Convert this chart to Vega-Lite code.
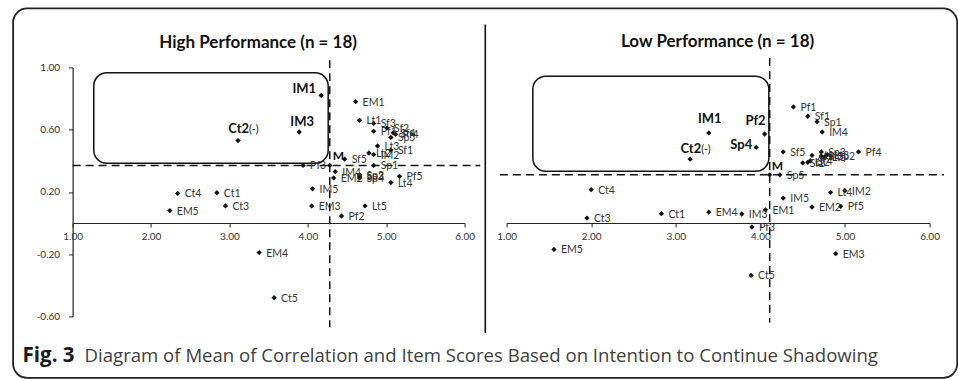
{
  "$schema": "https://vega.github.io/schema/vega-lite/v6.json",
  "padding": {"left": 11.6, "top": 7.4, "right": 0, "bottom": 0},
  "config": {
    "view": {"stroke": null},
    "locale": {"number": {"decimal": ".", "thousands": ",", "grouping": [3], "currency": ["$", ""], "minus": "-"}},
    "axis": {"grid": false, "title": null, "labelFont": "Lato", "labelFontSize": 10, "labelColor": "#333", "domainColor": "#222", "tickColor": "#222", "domainWidth": 1.2, "tickSize": 4, "labelFlush": false, "labelOverlap": false}
  },
  "datasets": {
    "high": [
      {"item": "IM1", "mean": 4.17, "r": 0.82},
      {"item": "IM2", "mean": 4.84, "r": 0.44},
      {"item": "IM3", "mean": 3.89, "r": 0.585},
      {"item": "IM4", "mean": 4.35, "r": 0.33},
      {"item": "IM5", "mean": 4.06, "r": 0.22},
      {"item": "EM1", "mean": 4.61, "r": 0.78},
      {"item": "EM2", "mean": 4.33, "r": 0.29},
      {"item": "EM3", "mean": 4.05, "r": 0.11},
      {"item": "EM4", "mean": 3.38, "r": -0.19},
      {"item": "EM5", "mean": 2.24, "r": 0.08},
      {"item": "Ct1", "mean": 2.84, "r": 0.195},
      {"item": "Ct2", "mean": 3.11, "r": 0.53},
      {"item": "Ct3", "mean": 2.95, "r": 0.11},
      {"item": "Ct4", "mean": 2.34, "r": 0.19},
      {"item": "Ct5", "mean": 3.57, "r": -0.48},
      {"item": "Sf1", "mean": 5.06, "r": 0.47},
      {"item": "Sf2", "mean": 5.01, "r": 0.61},
      {"item": "Sf3", "mean": 4.84, "r": 0.64},
      {"item": "Sf4", "mean": 5.09, "r": 0.58},
      {"item": "Sf5", "mean": 4.47, "r": 0.41},
      {"item": "Sp1", "mean": 4.84, "r": 0.37},
      {"item": "Sp2", "mean": 4.66, "r": 0.31},
      {"item": "Sp3", "mean": 4.66, "r": 0.3},
      {"item": "Sp4", "mean": 4.66, "r": 0.29},
      {"item": "Sp5", "mean": 5.06, "r": 0.55},
      {"item": "Lt1", "mean": 4.66, "r": 0.66},
      {"item": "Lt2", "mean": 4.78, "r": 0.45},
      {"item": "Lt3", "mean": 4.89, "r": 0.495},
      {"item": "Lt4", "mean": 5.06, "r": 0.26},
      {"item": "Lt5", "mean": 4.73, "r": 0.11},
      {"item": "Pf1", "mean": 4.84, "r": 0.59},
      {"item": "Pf2", "mean": 4.43, "r": 0.045},
      {"item": "Pf3", "mean": 3.94, "r": 0.37},
      {"item": "Pf4", "mean": 5.12, "r": 0.57},
      {"item": "Pf5", "mean": 5.17, "r": 0.3},
      {"item": "M", "mean": 4.28, "r": 0.37}
    ],
    "low": [
      {"item": "IM1", "mean": 3.39, "r": 0.579},
      {"item": "IM2", "mean": 5.0, "r": 0.208},
      {"item": "IM3", "mean": 3.78, "r": 0.058},
      {"item": "IM4", "mean": 4.73, "r": 0.585},
      {"item": "IM5", "mean": 4.27, "r": 0.16},
      {"item": "EM1", "mean": 4.06, "r": 0.085},
      {"item": "EM2", "mean": 4.61, "r": 0.103},
      {"item": "EM3", "mean": 4.89, "r": -0.197},
      {"item": "EM4", "mean": 3.39, "r": 0.07},
      {"item": "EM5", "mean": 1.56, "r": -0.17},
      {"item": "Ct1", "mean": 2.83, "r": 0.06},
      {"item": "Ct2", "mean": 3.17, "r": 0.41},
      {"item": "Ct3", "mean": 1.95, "r": 0.032},
      {"item": "Ct4", "mean": 2.0, "r": 0.214},
      {"item": "Ct5", "mean": 3.89, "r": -0.337},
      {"item": "Sf1", "mean": 4.56, "r": 0.686},
      {"item": "Sf2", "mean": 4.5, "r": 0.386},
      {"item": "Sf3", "mean": 4.72, "r": 0.43},
      {"item": "Sf4", "mean": 4.59, "r": 0.4},
      {"item": "Sf5", "mean": 4.27, "r": 0.457},
      {"item": "Sp1", "mean": 4.67, "r": 0.65},
      {"item": "Sp2", "mean": 4.83, "r": 0.43},
      {"item": "Sp3", "mean": 4.72, "r": 0.457},
      {"item": "Sp4", "mean": 3.95, "r": 0.486},
      {"item": "Sp5", "mean": 4.23, "r": 0.31},
      {"item": "Lt1", "mean": 4.61, "r": 0.435},
      {"item": "Lt2", "mean": 4.56, "r": 0.39},
      {"item": "Lt3", "mean": 4.79, "r": 0.44},
      {"item": "Lt4", "mean": 4.83, "r": 0.197},
      {"item": "Lt5", "mean": 4.76, "r": 0.425},
      {"item": "Pf1", "mean": 4.39, "r": 0.746},
      {"item": "Pf2", "mean": 4.05, "r": 0.572},
      {"item": "Pf3", "mean": 3.9, "r": -0.026},
      {"item": "Pf4", "mean": 5.16, "r": 0.457},
      {"item": "Pf5", "mean": 4.95, "r": 0.107},
      {"item": "M", "mean": 4.11, "r": 0.31}
    ]
  },
  "bounds": "flush",
  "spacing": 42,
  "hconcat": [
    {
      "width": 392,
      "height": 249,
      "data": {"name": "high"},
      "layer": [
        {
          "data": {"values": [{}]},
          "mark": {"type": "rect", "filled": false, "color": "#222", "stroke": "#222", "strokeWidth": 1.8, "cornerRadius": 14},
          "encoding": {
            "x": {"datum": 0.241, "type": "quantitative", "scale": {"domain": [1, 6], "nice": false, "zero": false}},
            "x2": {"datum": 12.284},
            "y": {"datum": 1.379, "type": "quantitative", "scale": {"domain": [-0.6, 1.0], "nice": false, "zero": false}},
            "y2": {"datum": -0.995}
          }
        },
        {
          "data": {"values": [{}]},
          "mark": {"type": "text", "align": "center", "baseline": "middle", "font": "Lato", "fontSize": 17, "fontWeight": "bold", "color": "#111"},
          "encoding": {"x": {"datum": 3.366, "type": "quantitative"}, "y": {"datum": 1.156, "type": "quantitative"}, "text": {"value": "High Performance (n = 18)"}}
        },
        {
          "data": {"values": [{}]},
          "mark": {"type": "rect", "filled": false, "color": "#111", "stroke": "#111", "strokeWidth": 1.5, "cornerRadius": 13},
          "encoding": {
            "x": {"datum": 1.27, "type": "quantitative"},
            "x2": {"datum": 4.26},
            "y": {"datum": 0.965, "type": "quantitative"},
            "y2": {"datum": 0.384}
          }
        },
        {
          "data": {"values": [{}]},
          "mark": {"type": "rule", "color": "#111", "strokeWidth": 1.5, "strokeDash": [8, 5]},
          "encoding": {
            "x": {"datum": 1.0, "type": "quantitative"},
            "x2": {"datum": 6.2},
            "y": {"datum": 0.37, "type": "quantitative"}
          }
        },
        {
          "data": {"values": [{}]},
          "mark": {"type": "rule", "color": "#111", "strokeWidth": 1.5, "strokeDash": [8, 5]},
          "encoding": {
            "x": {"datum": 4.28, "type": "quantitative"},
            "y": {"datum": 1.046, "type": "quantitative"},
            "y2": {"datum": -0.67}
          }
        },
        {
          "mark": {"type": "point", "shape": "diamond", "filled": true, "size": 28, "color": "#111", "opacity": 1},
          "encoding": {
            "x": {"field": "mean", "type": "quantitative", "scale": {"domain": [1, 6], "nice": false, "zero": false},
                  "axis": {"values": [1, 2, 3, 4, 5, 6], "format": ".2f", "offset": -93.4, "labelPadding": 5}},
            "y": {"field": "r", "type": "quantitative", "scale": {"domain": [-0.6, 1.0], "nice": false, "zero": false},
                  "axis": {"values": [-0.6, -0.4, -0.2, 0, 0.2, 0.4, 0.6, 0.8, 1.0], "format": ".2f", "labelPadding": 9}}
          }
        },
        {
          "transform": [{"filter": {"not": {"field": "item", "oneOf": ["IM1", "IM3", "Ct2", "M"]}}}],
          "mark": {"type": "text", "align": "left", "baseline": "middle", "dx": 7, "dy": 1, "font": "Lato", "fontSize": 10.5, "color": "#333"},
          "encoding": {"x": {"field": "mean", "type": "quantitative"}, "y": {"field": "r", "type": "quantitative"}, "text": {"field": "item"}}
        },
        {
          "transform": [{"filter": {"field": "item", "oneOf": ["IM1"]}}],
          "mark": {"type": "text", "align": "right", "baseline": "middle", "dx": -5, "dy": -6, "font": "Lato", "fontSize": 13, "fontWeight": "bold", "color": "#111"},
          "encoding": {"x": {"field": "mean", "type": "quantitative"}, "y": {"field": "r", "type": "quantitative"}, "text": {"field": "item"}}
        },
        {
          "transform": [{"filter": {"field": "item", "oneOf": ["IM3"]}}],
          "mark": {"type": "text", "align": "center", "baseline": "middle", "dx": 3, "dy": -10, "font": "Lato", "fontSize": 13, "fontWeight": "bold", "color": "#111"},
          "encoding": {"x": {"field": "mean", "type": "quantitative"}, "y": {"field": "r", "type": "quantitative"}, "text": {"field": "item"}}
        },
        {
          "transform": [{"filter": {"field": "item", "oneOf": ["Ct2"]}}],
          "mark": {"type": "text", "align": "right", "baseline": "middle", "dx": 11, "dy": -12, "font": "Lato", "fontSize": 13, "fontWeight": "bold", "color": "#111"},
          "encoding": {"x": {"field": "mean", "type": "quantitative"}, "y": {"field": "r", "type": "quantitative"}, "text": {"field": "item"}}
        },
        {
          "transform": [{"filter": {"field": "item", "oneOf": ["Ct2"]}}],
          "mark": {"type": "text", "align": "left", "baseline": "middle", "dx": 11, "dy": -11, "font": "Lato", "fontSize": 10.5, "color": "#111"},
          "encoding": {"x": {"field": "mean", "type": "quantitative"}, "y": {"field": "r", "type": "quantitative"}, "text": {"value": "(-)"}}
        },
        {
          "transform": [{"filter": {"field": "item", "oneOf": ["M"]}}],
          "mark": {"type": "text", "align": "left", "baseline": "middle", "dx": 3, "dy": -9, "font": "Lato", "fontSize": 12, "fontWeight": "bold", "color": "#111"},
          "encoding": {"x": {"field": "mean", "type": "quantitative"}, "y": {"field": "r", "type": "quantitative"}, "text": {"field": "item"}}
        },
        {
          "data": {"values": [{}]},
          "mark": {"type": "text", "align": "left", "baseline": "alphabetic", "font": "Open Sans", "fontSize": 20.5, "fontWeight": "bold", "color": "#1a1a1a"},
          "encoding": {"x": {"datum": 0.362, "type": "quantitative"}, "y": {"datum": -0.896, "type": "quantitative"}, "text": {"value": "Fig. 3"}}
        },
        {
          "data": {"values": [{}]},
          "mark": {"type": "text", "align": "left", "baseline": "alphabetic", "font": "Open Sans", "fontSize": 18.6, "color": "#404040"},
          "encoding": {"x": {"datum": 1.153, "type": "quantitative"}, "y": {"datum": -0.896, "type": "quantitative"}, "text": {"value": "Diagram of Mean of Correlation and Item Scores Based on Intention to Continue Shadowing"}}
        }
      ]
    },
    {
      "width": 423,
      "height": 249,
      "data": {"name": "low"},
      "layer": [
        {
          "data": {"values": [{}]},
          "mark": {"type": "rule", "color": "#111", "strokeWidth": 1.6},
          "encoding": {
            "x": {"datum": 0.748, "type": "quantitative", "scale": {"domain": [1, 6], "nice": false, "zero": false}},
            "y": {"datum": 1.275, "type": "quantitative", "scale": {"domain": [-0.6, 1.0], "nice": false, "zero": false}},
            "y2": {"datum": -0.705}
          }
        },
        {
          "data": {"values": [{}]},
          "mark": {"type": "text", "align": "center", "baseline": "middle", "font": "Lato", "fontSize": 17, "fontWeight": "bold", "color": "#111"},
          "encoding": {"x": {"datum": 3.494, "type": "quantitative"}, "y": {"datum": 1.16, "type": "quantitative"}, "text": {"value": "Low Performance (n = 18)"}}
        },
        {
          "data": {"values": [{}]},
          "mark": {"type": "rect", "filled": false, "color": "#111", "stroke": "#111", "strokeWidth": 1.5, "cornerRadius": 13},
          "encoding": {
            "x": {"datum": 1.31, "type": "quantitative"},
            "x2": {"datum": 4.1},
            "y": {"datum": 0.943, "type": "quantitative"},
            "y2": {"datum": 0.332}
          }
        },
        {
          "data": {"values": [{}]},
          "mark": {"type": "rule", "color": "#111", "strokeWidth": 1.5, "strokeDash": [8, 5]},
          "encoding": {
            "x": {"datum": 0.92, "type": "quantitative"},
            "x2": {"datum": 6.17},
            "y": {"datum": 0.31, "type": "quantitative"}
          }
        },
        {
          "data": {"values": [{}]},
          "mark": {"type": "rule", "color": "#111", "strokeWidth": 1.5, "strokeDash": [8, 5]},
          "encoding": {
            "x": {"datum": 4.11, "type": "quantitative"},
            "y": {"datum": 1.06, "type": "quantitative"},
            "y2": {"datum": -0.64}
          }
        },
        {
          "mark": {"type": "point", "shape": "diamond", "filled": true, "size": 28, "color": "#111", "opacity": 1},
          "encoding": {
            "x": {"field": "mean", "type": "quantitative", "scale": {"domain": [1, 6], "nice": false, "zero": false},
                  "axis": {"values": [1, 2, 3, 4, 5, 6], "format": ".2f", "offset": -93.4, "labelPadding": 5}},
            "y": {"field": "r", "type": "quantitative", "scale": {"domain": [-0.6, 1.0], "nice": false, "zero": false}, "axis": null}
          }
        },
        {
          "transform": [{"filter": {"not": {"field": "item", "oneOf": ["IM1", "Pf2", "Sp4", "Ct2", "M"]}}}],
          "mark": {"type": "text", "align": "left", "baseline": "middle", "dx": 7, "dy": 1, "font": "Lato", "fontSize": 10.5, "color": "#333"},
          "encoding": {"x": {"field": "mean", "type": "quantitative"}, "y": {"field": "r", "type": "quantitative"}, "text": {"field": "item"}}
        },
        {
          "transform": [{"filter": {"field": "item", "oneOf": ["IM1"]}}],
          "mark": {"type": "text", "align": "center", "baseline": "middle", "dx": 1, "dy": -14, "font": "Lato", "fontSize": 13, "fontWeight": "bold", "color": "#111"},
          "encoding": {"x": {"field": "mean", "type": "quantitative"}, "y": {"field": "r", "type": "quantitative"}, "text": {"field": "item"}}
        },
        {
          "transform": [{"filter": {"field": "item", "oneOf": ["Pf2"]}}],
          "mark": {"type": "text", "align": "right", "baseline": "middle", "dx": 1, "dy": -13, "font": "Lato", "fontSize": 13, "fontWeight": "bold", "color": "#111"},
          "encoding": {"x": {"field": "mean", "type": "quantitative"}, "y": {"field": "r", "type": "quantitative"}, "text": {"field": "item"}}
        },
        {
          "transform": [{"filter": {"field": "item", "oneOf": ["Sp4"]}}],
          "mark": {"type": "text", "align": "right", "baseline": "middle", "dx": -4, "dy": -2, "font": "Lato", "fontSize": 13, "fontWeight": "bold", "color": "#111"},
          "encoding": {"x": {"field": "mean", "type": "quantitative"}, "y": {"field": "r", "type": "quantitative"}, "text": {"field": "item"}}
        },
        {
          "transform": [{"filter": {"field": "item", "oneOf": ["Ct2"]}}],
          "mark": {"type": "text", "align": "right", "baseline": "middle", "dx": 11, "dy": -10, "font": "Lato", "fontSize": 13, "fontWeight": "bold", "color": "#111"},
          "encoding": {"x": {"field": "mean", "type": "quantitative"}, "y": {"field": "r", "type": "quantitative"}, "text": {"field": "item"}}
        },
        {
          "transform": [{"filter": {"field": "item", "oneOf": ["Ct2"]}}],
          "mark": {"type": "text", "align": "left", "baseline": "middle", "dx": 11, "dy": -9, "font": "Lato", "fontSize": 10.5, "color": "#111"},
          "encoding": {"x": {"field": "mean", "type": "quantitative"}, "y": {"field": "r", "type": "quantitative"}, "text": {"value": "(-)"}}
        },
        {
          "transform": [{"filter": {"field": "item", "oneOf": ["M"]}}],
          "mark": {"type": "text", "align": "left", "baseline": "middle", "dx": 2, "dy": -9, "font": "Lato", "fontSize": 12, "fontWeight": "bold", "color": "#111"},
          "encoding": {"x": {"field": "mean", "type": "quantitative"}, "y": {"field": "r", "type": "quantitative"}, "text": {"field": "item"}}
        }
      ]
    }
  ]
}
